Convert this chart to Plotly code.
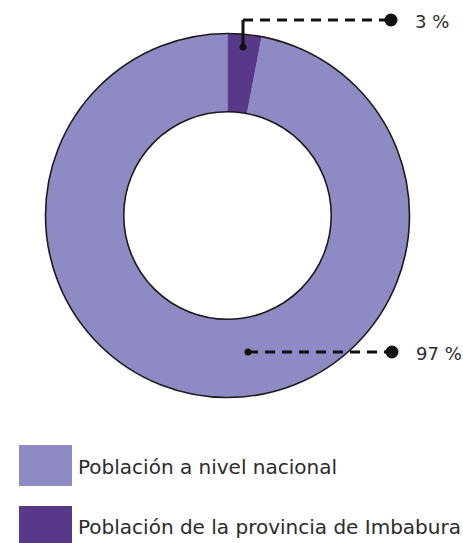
import plotly.graph_objects as go

# Data
categories = ["Población a nivel nacional", "Población de la provincia de Imbabura"]
values = [97, 3]
value_labels = ["97 %", "3 %"]
colors = ["#8e8bc4", "#583989"]

W, H = 463, 543

def px(x):
    return x / W

def py(y):
    return 1 - y / H

# donut geometry (pixels)
cx, cy, R = 227.5, 215.5, 182
hole = 0.57

fig = go.Figure(go.Pie(
    labels=categories,
    values=values,
    hole=hole,
    sort=False,
    direction="clockwise",
    rotation=values[1] / sum(values) * 360,
    marker=dict(colors=colors, line=dict(width=0)),
    textinfo="none",
    hoverinfo="label+percent",
    showlegend=False,
    domain=dict(x=[px(cx - R), px(cx + R)], y=[py(cy + R), py(cy - R)]),
))

shapes = []
# outer and inner outlines
for r in (R, R * hole):
    shapes.append(dict(type="circle", xref="paper", yref="paper",
                       x0=px(cx - r), x1=px(cx + r), y0=py(cy + r), y1=py(cy - r),
                       line=dict(color="#1a1a1a", width=1.6), fillcolor="rgba(0,0,0,0)",
                       layer="above"))

dash = "10px,7px"
lc = "#111111"
# leader for 3 %
shapes.append(dict(type="line", xref="paper", yref="paper", x0=px(243), y0=py(47), x1=px(243), y1=py(20),
                   line=dict(color=lc, width=3)))
shapes.append(dict(type="line", xref="paper", yref="paper", x0=px(243), y0=py(20), x1=px(391), y1=py(20),
                   line=dict(color=lc, width=3, dash=dash)))
# leader for 97 %
shapes.append(dict(type="line", xref="paper", yref="paper", x0=px(248), y0=py(352), x1=px(392), y1=py(352),
                   line=dict(color=lc, width=3, dash=dash)))

def dot(x, y, r):
    return dict(type="circle", xref="paper", yref="paper", x0=px(x - r), x1=px(x + r),
                y0=py(y + r), y1=py(y - r), fillcolor=lc, line=dict(width=0))

shapes += [dot(243, 47, 3.5), dot(391, 20, 6.5), dot(248, 352, 3.5), dot(392, 352, 6.5)]

# legend squares
legend_y = [(445, 486), (506, 547)]
for (y0, y1), c in zip(legend_y, colors):
    shapes.append(dict(type="rect", xref="paper", yref="paper", x0=px(19), x1=px(72),
                       y0=py(y1), y1=py(y0), fillcolor=c, line=dict(width=0)))

font_family = "'DejaVu Sans', sans-serif"
text_color = "#2b2b2b"
annotations = [
    dict(x=px(413), y=py(21), text=value_labels[1], showarrow=False, xanchor="left", yanchor="middle",
         font=dict(size=18, color=text_color, family=font_family)),
    dict(x=px(414), y=py(353), text=value_labels[0], showarrow=False, xanchor="left", yanchor="middle",
         font=dict(size=18, color=text_color, family=font_family)),
]
for yc, cat in zip([467, 527], categories):
    annotations.append(dict(x=px(76), y=py(yc), text=cat, showarrow=False, xanchor="left", yanchor="middle",
                            font=dict(size=20, color=text_color, family=font_family)))

fig.update_layout(
    width=W, height=H,
    margin=dict(l=0, r=0, t=0, b=0),
    paper_bgcolor="white", plot_bgcolor="white",
    shapes=shapes, annotations=annotations,
)

fig.write_html("out.html", config={"displayModeBar": False},
               post_script="document.body.style.margin='0';document.body.style.padding='0';")
